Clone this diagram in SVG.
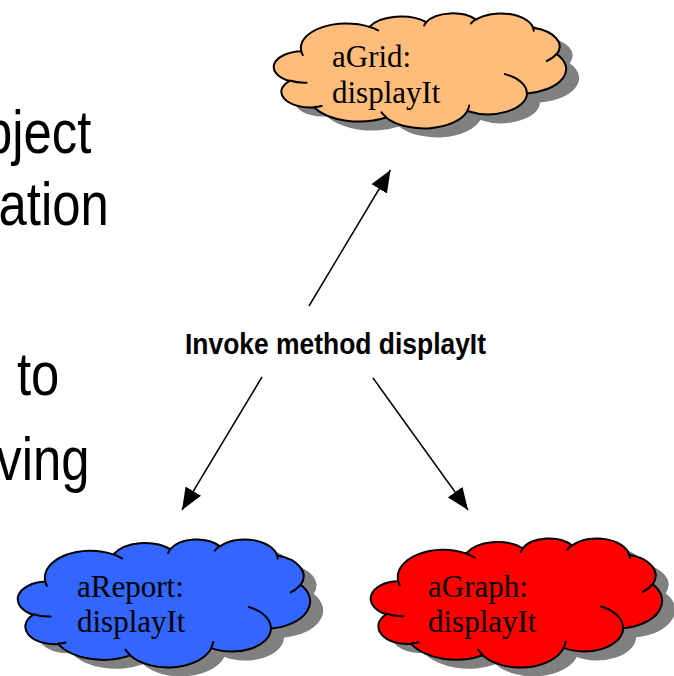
<svg xmlns="http://www.w3.org/2000/svg" xmlns:xlink="http://www.w3.org/1999/xlink" width="674" height="676" viewBox="0 0 674 676">
  <style>
    .body { font-family: "Liberation Sans", Arial, sans-serif; font-size: 62px; fill: #000; }
    .label { font-family: "Liberation Sans", Arial, sans-serif; font-size: 30px; font-weight: bold; fill: #000; }
    .name { font-family: "Liberation Serif", "Times New Roman", serif; font-size: 31px; fill: #000; }
    .outline { stroke: #000; stroke-width: 2; stroke-linejoin: round; }
    .detail { fill: none; stroke: #000; stroke-width: 2; stroke-linecap: round; }
    .shadow { fill: #808080; stroke: none; }
    .link { stroke: #000; stroke-width: 1.5; fill: none; marker-end: url(#head); }
  </style>
  <defs>
    <!-- cloud outline on a 43200 x 43200 grid -->
    <path id="cloud" vector-effect="non-scaling-stroke" d="M3900 14370
      A6753 9190 0 0 1 14005 5202
      A5333 7267 0 0 1 22456 3432
      A4365 5945 0 0 1 29834 2481
      A4857 6595 0 0 1 38319 5576
      A5333 7273 0 0 1 41820 15460
      A6775 9220 0 0 1 37406 30203
      A5785 7867 0 0 1 28558 36814
      A6752 9215 0 0 1 16484 39269
      A7720 10543 0 0 1 5807 35474
      A4360 5918 0 0 1 2115 25553
      A4345 5945 0 0 1 3900 14370 Z"/>
    <!-- inner fold strokes of the cloud -->
    <path id="folds" vector-effect="non-scaling-stroke" d="M4693 26177 A4345 5945 0 0 1 2159 25380
      M6928 34899 A4360 5918 0 0 1 5819 35281
      M16478 39090 A6752 9215 0 0 1 15808 37345
      M28827 34751 A6752 9215 0 0 1 28560 36659
      M34129 22954 A5785 7867 0 0 1 37381 30090
      M41798 15354 A5333 7273 0 0 1 40350 18030
      M38324 5426 A4857 6595 0 0 1 38400 6690
      M29078 3952 A4857 6595 0 0 1 29820 2339
      M22141 4720 A4365 5945 0 0 1 22500 3330
      M14000 5192 A6753 9190 0 0 1 15300 6540
      M4127 15789 A6753 9190 0 0 1 3900 14370"/>
    <marker id="head" viewBox="0 0 22 18" refX="22" refY="9" markerWidth="22" markerHeight="18" markerUnits="userSpaceOnUse" orient="auto">
      <path d="M0 0 L22 9 L0 18 Z" fill="#000"/>
    </marker>
  </defs>

  <rect width="674" height="676" fill="#fff"/>

  <!-- bullet text running off the left edge -->
  <g id="slide-text" transform="scale(0.82 1)">
    <text class="body" x="-19.5" y="153">bject</text>
    <text class="body" x="-1.8" y="225">ation</text>
    <text class="body" x="20.7" y="395">to</text>
    <text class="body" x="-4.6" y="480">ving</text>
  </g>

  <!-- aGrid -->
  <g id="node-aGrid">
    <use xlink:href="#cloud" class="shadow" transform="translate(288 22) scale(0.006736 0.002662)"/>
    <use xlink:href="#cloud" class="outline" fill="#FFBC7A" transform="translate(275 13) scale(0.006736 0.002662)"/>
    <use xlink:href="#folds" class="detail" transform="translate(275 13) scale(0.006736 0.002662)"/>
    <text class="name" x="332" y="67">aGrid:</text>
    <text class="name" x="332" y="103">displayIt</text>
  </g>

  <!-- aReport -->
  <g id="node-aReport">
    <use xlink:href="#cloud" class="shadow" transform="translate(32 548) scale(0.006736 0.002963)"/>
    <use xlink:href="#cloud" class="outline" fill="#3366FF" transform="translate(19 539) scale(0.006736 0.002963)"/>
    <use xlink:href="#folds" class="detail" transform="translate(19 539) scale(0.006736 0.002963)"/>
    <text class="name" x="77" y="597">aReport:</text>
    <text class="name" x="77" y="632">displayIt</text>
  </g>

  <!-- aGraph -->
  <g id="node-aGraph">
    <use xlink:href="#cloud" class="shadow" transform="translate(385 547) scale(0.006713 0.002986)"/>
    <use xlink:href="#cloud" class="outline" fill="#FF0000" transform="translate(372 538) scale(0.006713 0.002986)"/>
    <use xlink:href="#folds" class="detail" transform="translate(372 538) scale(0.006713 0.002986)"/>
    <text class="name" x="428" y="597">aGraph:</text>
    <text class="name" x="428" y="632">displayIt</text>
  </g>

  <!-- message label -->
  <g id="node-invoke">
    <text class="label" x="185" y="354" textLength="301" lengthAdjust="spacingAndGlyphs">Invoke method displayIt</text>
  </g>

  <!-- calls -->
  <g id="connectors">
    <line class="link" x1="309" y1="306" x2="390.5" y2="170"/>
    <line class="link" x1="262" y1="377" x2="182" y2="510"/>
    <line class="link" x1="373" y1="378" x2="468" y2="510"/>
  </g>
</svg>
